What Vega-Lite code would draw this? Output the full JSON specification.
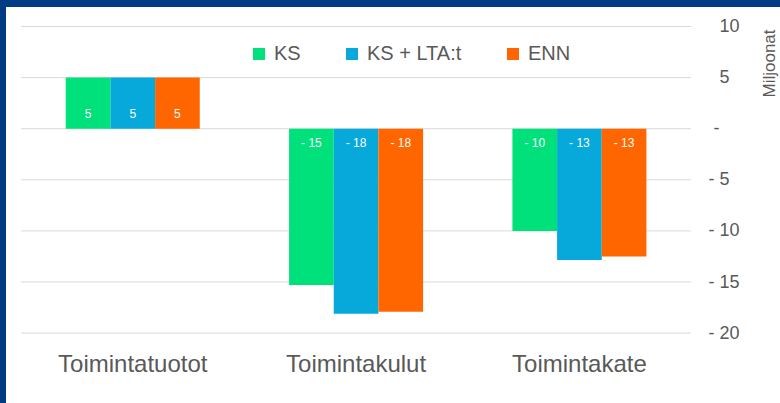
{
  "$schema": "https://vega.github.io/schema/vega-lite/v6.json",
  "width": 774,
  "height": 396,
  "autosize": "none",
  "padding": {"left": 6, "top": 7, "right": 0, "bottom": 0},
  "background": "#003B84",
  "view": {"fill": "white", "stroke": null},
  "config": {
    "font": "Liberation Sans",
    "axis": {"labelColor": "#595959", "titleColor": "#595959"},
    "legend": {"labelColor": "#595959"}
  },
  "datasets": {
    "bars": [
      {"cat": "Toimintatuotot", "series": "KS", "value": 5},
      {"cat": "Toimintatuotot", "series": "KS + LTA:t", "value": 5},
      {"cat": "Toimintatuotot", "series": "ENN", "value": 5},
      {"cat": "Toimintakulut", "series": "KS", "value": -15.3},
      {"cat": "Toimintakulut", "series": "KS + LTA:t", "value": -18.1},
      {"cat": "Toimintakulut", "series": "ENN", "value": -17.9},
      {"cat": "Toimintakate", "series": "KS", "value": -10},
      {"cat": "Toimintakate", "series": "KS + LTA:t", "value": -12.85},
      {"cat": "Toimintakate", "series": "ENN", "value": -12.5}
    ],
    "grid": [
      {"value": 10}, {"value": 5}, {"value": 0}, {"value": -5},
      {"value": -10}, {"value": -15}, {"value": -20}
    ]
  },
  "layer": [
    {
      "data": {"name": "grid"},
      "mark": {"type": "rule", "color": "#D9D9D9", "strokeWidth": 1},
      "encoding": {
        "x": {"datum": "Toimintatuotot", "type": "nominal", "bandPosition": 0,
              "scale": {"domain": ["Toimintatuotot", "Toimintakulut", "Toimintakate"], "paddingInner": 0, "paddingOuter": 0.2328, "align": 0.145},
              "axis": {
                "title": null, "orient": "bottom", "offset": -32, "domain": false, "ticks": false, "grid": false,
                "labelPadding": 0, "labelBaseline": "alphabetic", "labelFontSize": 24, "labelAngle": 0
              }},
        "x2": {"datum": "Toimintakate", "bandPosition": 1},
        "y": {"field": "value", "type": "quantitative",
              "scale": {"domain": [-26.84, 11.91], "nice": false, "zero": false},
              "axis": {
                "orient": "right", "offset": -72, "grid": false, "domain": false, "ticks": false,
                "values": [10, 5, 0, -5, -10, -15, -20],
                "labelPadding": {"condition": [{"test": "datum.value > 0", "value": 11}, {"test": "datum.value == 0", "value": 5}], "value": 0},
                "labelAlign": "left", "labelBaseline": "middle", "labelFontSize": 18,
                "labelExpr": "datum.value > 0 ? '' + datum.value : (datum.value < 0 ? '- ' + abs(datum.value) : '-')",
                "title": "Miljoonat", "titleAngle": -90, "titleFontSize": 17, "titleFontWeight": "normal",
                "titleX": 61, "titleY": 56, "titleAlign": "center", "titleBaseline": "middle"
              }}
      }
    },
    {
      "data": {"name": "bars"},
      "mark": {"type": "bar"},
      "encoding": {
        "x": {"field": "cat", "type": "nominal"},
        "xOffset": {
          "field": "series", "type": "nominal",
          "sort": ["KS", "KS + LTA:t", "ENN"],
          "scale": {"paddingInner": 0, "paddingOuter": 1.1}
        },
        "y": {"field": "value", "type": "quantitative"},
        "color": {
          "field": "series", "type": "nominal",
          "scale": {"domain": ["KS", "KS + LTA:t", "ENN"], "range": ["#00E17B", "#07A9DB", "#FF6600"]},
          "legend": {
            "title": null, "orient": "none", "direction": "horizontal",
            "legendX": 243, "legendY": 37, "symbolType": "square", "symbolSize": 144,
            "symbolStrokeWidth": 0, "labelFontSize": 20, "labelOffset": 5, "columnPadding": 41, "padding": 0
          }
        }
      }
    },
    {
      "data": {"name": "bars"},
      "transform": [
        {"filter": "datum.value > 0"},
        {"calculate": "format(datum.value, '.0f')", "as": "label"}
      ],
      "mark": {"type": "text", "color": "white", "fontSize": 12, "baseline": "middle", "dy": -14.5},
      "encoding": {
        "x": {"field": "cat", "type": "nominal"},
        "xOffset": {"field": "series", "type": "nominal", "sort": ["KS", "KS + LTA:t", "ENN"], "scale": {"paddingInner": 0, "paddingOuter": 1.1}},
        "y": {"datum": 0, "type": "quantitative"},
        "text": {"field": "label"}
      }
    },
    {
      "data": {"name": "bars"},
      "transform": [
        {"filter": "datum.value < 0"},
        {"calculate": "'- ' + format(-datum.value, '.0f')", "as": "label"}
      ],
      "mark": {"type": "text", "color": "white", "fontSize": 12, "baseline": "middle", "dy": 14.5},
      "encoding": {
        "x": {"field": "cat", "type": "nominal"},
        "xOffset": {"field": "series", "type": "nominal", "sort": ["KS", "KS + LTA:t", "ENN"], "scale": {"paddingInner": 0, "paddingOuter": 1.1}},
        "y": {"datum": 0, "type": "quantitative"},
        "text": {"field": "label"}
      }
    }
  ]
}
